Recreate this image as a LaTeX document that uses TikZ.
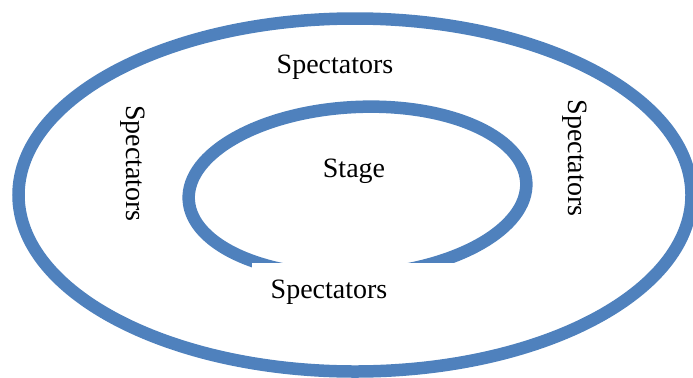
\documentclass[tikz,border=0pt]{standalone}
\usepackage{fontspec}
\setmainfont{Liberation Serif}
\definecolor{ringblue}{HTML}{4F81BD}
\begin{document}
\begin{tikzpicture}[x=1bp,y=-1bp,
    ring/.style={draw=ringblue,line width=12.5bp},
    spec/.style={font=\fontsize{28bp}{33bp}\selectfont,inner sep=0pt}]
      \useasboundingbox (0,0) rectangle (693,377);
      \draw[ring] (355,195) ellipse [x radius=336.5bp, y radius=176.5bp];
      \draw[ring,rotate around={3:(357.5,191)}] (357.5,191) ellipse [x radius=169bp, y radius=84bp];
      % gap in the stage ring
      \fill[white] (252,263) rectangle (500,300);
      \draw
        (335,73) node[spec,anchor=base] (top){Spectators}
        (354,177) node[spec,anchor=base] (stage){Stage}
        (329,298) node[spec,anchor=base] (bottom){Spectators}
        (133,163.5) node[spec,rotate=-90] (left){Spectators}
        (575,158) node[spec,rotate=-90] (right){Spectators};
    \end{tikzpicture}
\end{document}
